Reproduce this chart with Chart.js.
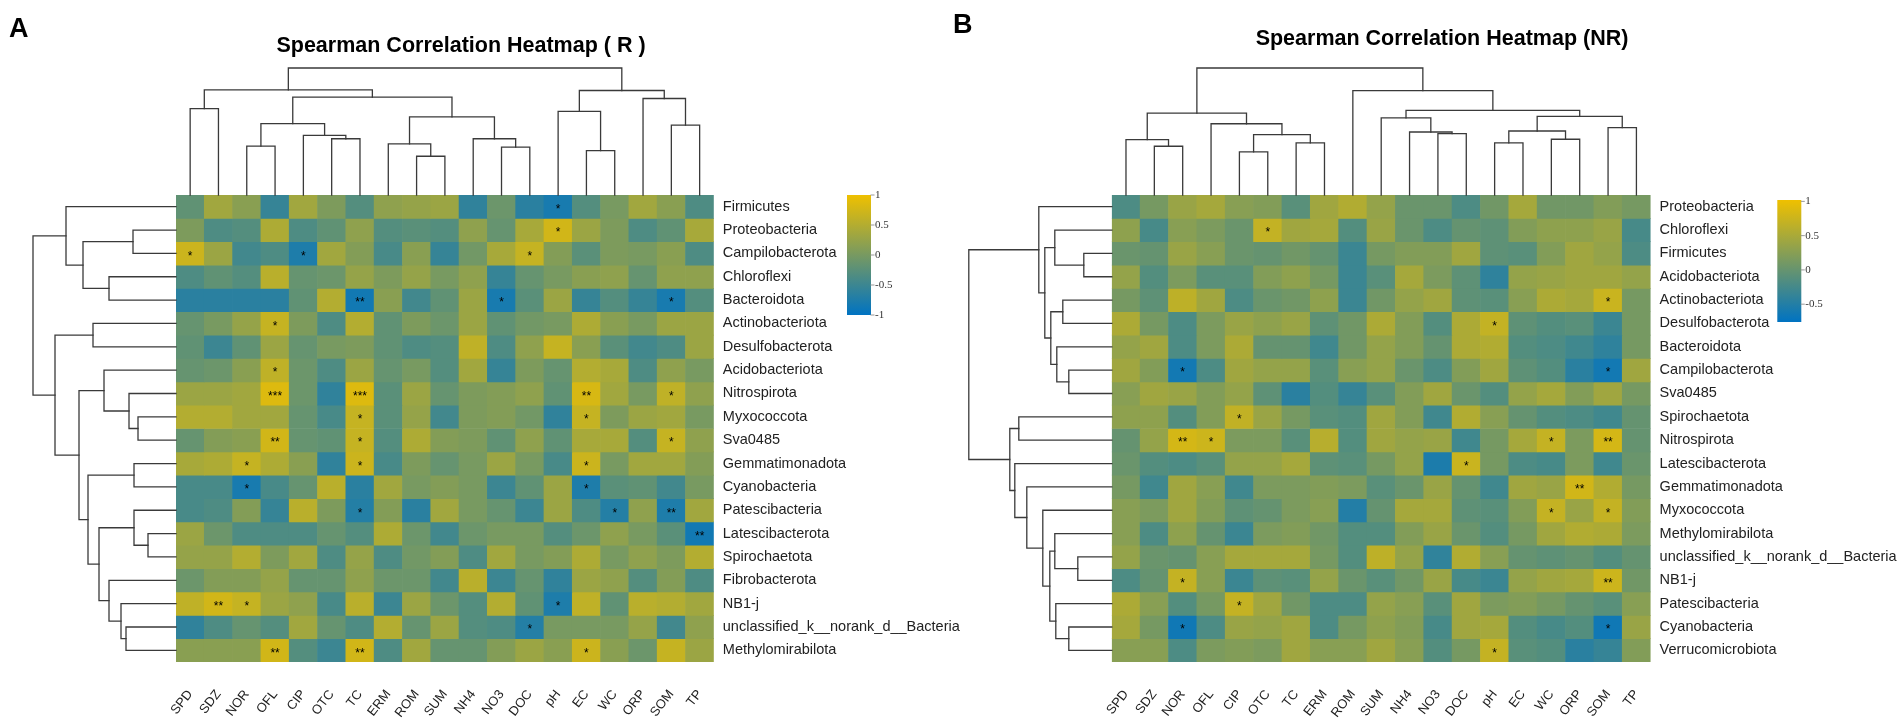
<!DOCTYPE html>
<html><head><meta charset="utf-8">
<script src="https://cdn.jsdelivr.net/npm/chart.js@4.4.1/dist/chart.umd.min.js"></script>
<style>
html,body{margin:0;padding:0;background:#fff;}
#wrap{position:relative;width:1904px;height:721px;overflow:hidden;background:#fff;}
.panel{position:absolute;top:0;height:721px;}
.letter{position:absolute;font:bold 27px "Liberation Sans",Arial,sans-serif;color:#000;line-height:1;}
</style></head><body>
<div id="wrap">
  <div class="panel" style="left:-40px;width:1002px"><canvas id="cA"></canvas></div>
  <div class="panel" style="left:965px;width:954px"><canvas id="cB"></canvas></div>
  <div class="letter" style="left:9px;top:15px">A</div>
  <div class="letter" style="left:953px;top:11px">B</div>
</div>
<script>
const columns = ["SPD","SDZ","NOR","OFL","CIP","OTC","TC","ERM","ROM","SUM","NH4","NO3","DOC","pH","EC","WC","ORP","SOM","TP"];

const rowsA = ["Firmicutes","Proteobacteria","Campilobacterota","Chloroflexi","Bacteroidota","Actinobacteriota","Desulfobacterota","Acidobacteriota","Nitrospirota","Myxococcota","Sva0485","Gemmatimonadota","Cyanobacteria","Patescibacteria","Latescibacterota","Spirochaetota","Fibrobacterota","NB1-j","unclassified_k__norank_d__Bacteria","Methylomirabilota"];

const rowsB = ["Proteobacteria","Chloroflexi","Firmicutes","Acidobacteriota","Actinobacteriota","Desulfobacterota","Bacteroidota","Campilobacterota","Sva0485","Spirochaetota","Nitrospirota","Latescibacterota","Gemmatimonadota","Myxococcota","Methylomirabilota","unclassified_k__norank_d__Bacteria","NB1-j","Patescibacteria","Cyanobacteria","Verrucomicrobiota"];

const valuesA = [
  [-0.2,0.35,0.15,-0.55,0.35,0.05,-0.3,0.2,0.25,0.3,-0.6,-0.1,-0.65,-0.8,-0.3,0.0,0.35,0.15,-0.35],
  [0.05,-0.35,-0.3,0.45,-0.35,-0.2,0.2,-0.3,-0.25,-0.3,0.2,-0.15,0.4,0.75,0.3,0.05,-0.35,-0.2,0.4],
  [0.7,0.3,-0.45,-0.35,-0.75,0.35,0.1,-0.4,0.15,-0.55,-0.05,0.4,0.65,0.1,-0.25,0.05,0.0,0.15,-0.35],
  [-0.35,-0.2,-0.3,0.55,-0.15,-0.1,0.25,0.05,0.25,0.0,0.2,-0.55,-0.15,0.0,0.15,0.2,-0.15,0.2,0.2],
  [-0.65,-0.65,-0.65,-0.65,-0.2,0.5,-0.85,0.15,-0.45,-0.2,0.3,-0.8,-0.25,0.3,-0.55,-0.3,-0.55,-0.8,-0.3],
  [-0.15,0.0,0.25,0.65,0.05,-0.35,0.5,-0.2,0.05,-0.1,0.3,-0.2,-0.05,0.0,0.45,0.15,0.0,0.3,0.3],
  [-0.2,-0.5,-0.2,0.3,-0.15,0.0,0.05,-0.2,-0.35,-0.3,0.6,-0.35,0.2,0.65,0.15,-0.25,-0.45,-0.35,0.3],
  [-0.15,-0.1,0.15,0.6,-0.1,-0.35,0.3,-0.15,0.0,-0.3,0.35,-0.55,0.05,-0.15,0.5,0.4,-0.35,0.2,0.0],
  [0.3,0.3,0.35,0.85,-0.1,-0.6,0.85,-0.25,0.3,-0.15,0.05,0.1,0.2,-0.2,0.8,0.35,0.0,0.6,0.2],
  [0.5,0.5,0.35,0.35,-0.15,-0.4,0.65,-0.25,0.25,-0.45,0.05,0.1,-0.05,-0.6,0.65,0.05,0.3,0.35,0.0],
  [-0.15,0.1,0.15,0.75,-0.15,-0.2,0.65,-0.3,0.45,0.1,0.05,-0.2,0.2,-0.2,0.4,0.4,-0.3,0.65,0.2],
  [0.4,0.45,0.65,0.45,0.15,-0.6,0.7,-0.4,0.05,-0.15,0.0,0.3,0.0,-0.4,0.7,0.0,0.35,0.35,0.1],
  [-0.4,-0.4,-0.8,-0.4,-0.15,0.55,-0.65,0.35,0.0,0.1,0.0,-0.5,-0.2,0.3,-0.75,-0.25,-0.2,-0.45,0.0],
  [-0.4,-0.35,0.1,-0.55,0.55,0.05,-0.7,0.1,-0.65,0.35,0.0,-0.15,-0.5,0.3,-0.35,-0.7,0.2,-0.75,0.35],
  [0.3,-0.1,-0.35,-0.35,-0.35,-0.15,-0.3,0.45,-0.1,-0.45,-0.1,0.0,0.0,-0.3,-0.1,0.2,0.0,-0.25,-0.85],
  [0.25,0.25,0.5,0.05,0.35,-0.35,0.25,-0.35,-0.05,0.1,-0.35,0.35,0.0,0.1,0.45,0.0,0.2,0.05,0.5],
  [-0.1,0.1,0.1,0.25,-0.15,-0.15,0.2,-0.1,-0.1,-0.45,0.55,-0.5,-0.15,-0.6,0.3,0.2,-0.3,0.1,-0.35],
  [0.6,0.75,0.65,0.3,0.2,-0.4,0.55,-0.5,0.3,-0.1,-0.3,0.5,-0.2,-0.75,0.6,-0.2,0.55,0.5,0.35],
  [-0.6,-0.35,-0.15,-0.3,0.35,-0.15,-0.35,0.5,-0.15,0.3,-0.3,-0.35,-0.7,0.0,0.0,0.0,0.25,-0.45,0.2],
  [0.15,0.15,0.15,0.75,-0.3,-0.5,0.75,-0.35,0.35,-0.15,-0.15,0.1,0.3,0.15,0.7,0.15,-0.1,0.65,0.3]
];

const valuesB = [
  [-0.19,0.12,0.38,0.47,0.25,0.21,-0.10,0.43,0.56,0.34,0.03,0.03,-0.19,0.08,0.47,0.08,0.08,0.21,0.12],
  [0.30,-0.23,0.25,0.16,0.03,0.69,0.43,0.47,-0.14,0.38,0.03,-0.19,-0.01,-0.06,0.21,0.30,0.30,0.38,-0.23],
  [0.03,-0.01,0.38,0.25,0.03,-0.01,0.08,-0.01,-0.32,0.12,0.21,0.21,0.43,-0.06,-0.10,0.21,0.43,0.34,-0.19],
  [0.34,-0.14,0.16,-0.10,-0.10,0.21,0.30,0.12,-0.32,-0.10,0.47,0.16,-0.06,-0.41,0.34,0.38,0.43,0.43,0.34],
  [0.12,-0.06,0.65,0.43,-0.19,0.03,0.08,0.30,-0.32,0.08,0.34,0.43,-0.06,-0.10,0.25,0.52,0.47,0.74,0.12],
  [0.52,0.12,-0.19,0.16,0.38,0.30,0.38,-0.06,0.08,0.52,0.21,-0.14,0.52,0.69,-0.06,-0.14,-0.10,-0.32,0.12],
  [0.34,0.43,-0.19,0.16,0.52,-0.01,-0.01,-0.28,0.08,0.34,0.21,-0.01,0.52,0.56,-0.14,-0.19,-0.28,-0.41,0.12],
  [0.43,0.21,-0.62,-0.19,0.43,0.34,0.34,-0.10,0.25,0.34,0.03,-0.19,0.21,0.43,-0.06,-0.14,-0.45,-0.62,0.43],
  [0.25,0.43,0.38,0.21,0.34,-0.06,-0.45,-0.14,-0.36,-0.10,0.21,0.43,0.03,-0.14,0.34,0.47,0.21,0.43,0.12],
  [0.30,0.30,-0.14,0.21,0.68,0.38,0.12,-0.10,-0.14,0.43,0.21,-0.28,0.56,0.25,-0.01,-0.14,-0.19,-0.28,-0.01],
  [-0.01,0.34,0.82,0.76,0.16,0.16,-0.10,0.60,-0.14,0.43,0.34,0.38,-0.28,0.12,0.47,0.70,0.16,0.82,-0.01],
  [0.03,-0.14,-0.19,-0.10,0.34,0.34,0.47,-0.06,-0.10,0.12,0.34,-0.55,0.74,0.12,-0.19,-0.23,0.16,-0.28,0.03],
  [0.12,-0.28,0.43,0.25,-0.28,0.16,0.16,0.21,0.16,-0.10,0.03,0.38,-0.01,-0.28,0.43,0.38,0.80,0.56,0.12],
  [0.25,0.16,0.43,0.21,-0.06,-0.01,0.16,0.25,-0.50,-0.01,0.47,0.47,-0.06,-0.10,0.21,0.70,0.38,0.70,0.21],
  [0.25,-0.19,0.30,-0.01,-0.32,0.16,0.21,0.08,-0.14,-0.14,0.21,0.38,0.03,-0.14,0.12,0.43,0.56,0.52,0.16],
  [0.34,0.03,-0.01,0.25,0.47,0.47,0.47,0.12,-0.14,0.65,0.34,-0.40,0.56,0.25,-0.01,-0.06,-0.01,-0.14,-0.01],
  [-0.19,-0.01,0.70,0.25,-0.32,-0.06,-0.10,0.34,0.03,-0.10,0.08,0.38,-0.23,-0.32,0.34,0.43,0.47,0.76,0.08],
  [0.52,0.25,-0.14,0.12,0.70,0.43,0.08,-0.19,-0.19,0.34,0.25,-0.10,0.43,0.16,0.21,0.12,-0.01,-0.10,0.25],
  [0.47,0.12,-0.64,-0.19,0.38,0.34,0.43,-0.19,0.12,0.30,0.21,-0.23,0.43,0.47,-0.14,-0.23,-0.14,-0.64,0.38],
  [0.25,0.25,-0.19,0.16,0.21,0.16,0.43,0.25,0.25,0.43,0.25,-0.14,0.12,0.70,-0.10,-0.14,-0.45,-0.36,0.21]
];

// significance marks: [row, column, mark]
const starsA = [[0,13,'*'],[1,13,'*'],[2,0,'*'],[2,4,'*'],[2,12,'*'],[4,6,'**'],[4,11,'*'],[4,17,'*'],[5,3,'*'],[7,3,'*'],[8,3,'***'],[8,6,'***'],[8,14,'**'],[8,17,'*'],[9,6,'*'],[9,14,'*'],[10,3,'**'],[10,6,'*'],[10,17,'*'],[11,2,'*'],[11,6,'*'],[11,14,'*'],[12,2,'*'],[12,14,'*'],[13,6,'*'],[13,15,'*'],[13,17,'**'],[14,18,'**'],[17,1,'**'],[17,2,'*'],[17,13,'*'],[18,12,'*'],[19,3,'**'],[19,6,'**'],[19,14,'*']];
const starsB = [[1,5,'*'],[4,17,'*'],[5,13,'*'],[7,2,'*'],[7,17,'*'],[9,4,'*'],[10,2,'**'],[10,3,'*'],[10,15,'*'],[10,17,'**'],[11,12,'*'],[12,16,'**'],[13,15,'*'],[13,17,'*'],[16,2,'*'],[16,17,'**'],[17,4,'*'],[18,2,'*'],[18,17,'*'],[19,13,'*']];

// dendrogram merges (hclust style): negative = leaf -(index+1), positive = earlier merge number; third = height
const rowTreeA = [[-2,-3,43],[-4,-5,67],[1,2,93],[-1,3,110],[-6,-7,83],[-10,-11,38],[-9,6,47],[-8,7,72],[-12,-13,42],[-15,-16,28],[-14,10,42],[-19,-20,50],[-18,12,55],[-17,13,67],[11,14,77],[9,15,88],[8,16,97],[5,17,121],[4,18,143]];
const colTreeA = [[-1,-2,68],[-3,-4,38.5],[-6,-7,44.3],[-5,3,47],[2,4,56.2],[-9,-10,30.5],[-8,6,40.3],[-12,-13,37.7],[-11,8,44.3],[7,9,61.5],[5,10,77],[1,11,82.8],[-15,-16,35],[-14,13,65.8],[-18,-19,55],[-17,15,76],[14,16,82.3],[12,17,100]];
const rowTreeB = [[-3,-4,28],[-2,1,57],[-5,-6,49],[-8,-9,43],[-7,4,55],[3,5,61],[2,6,67],[-1,7,73],[-10,-11,93],[-16,-17,34],[-15,10,57],[-19,-20,43],[-18,12,56],[11,13,62],[-14,14,69],[-13,15,85],[-12,16,97],[9,17,102],[8,18,143]];
const colTreeB = [[-2,-3,38.4],[-1,1,43.6],[-5,-6,34],[-7,-8,41],[3,4,47.5],[-4,5,56.1],[2,6,64.5],[-12,-13,48.3],[-11,8,49.6],[-10,9,60.8],[-14,-15,41],[-16,-17,43.9],[11,12,50.4],[-18,-19,53],[13,14,61.9],[10,15,66.6],[-9,16,82.2],[7,17,100]];

const colorbarTicksA = [1, 0.5, 0, -0.5, -1];
const colorbarTicksB = [1, 0.5, 0, -0.5];

const FONT = '"Liberation Sans", Arial, Helvetica, sans-serif';
const LOW = [0, 115, 194], HIGH = [239, 192, 0];

function heatColor(v, vmin, vmax) {
  const t = Math.max(0, Math.min(1, (v - vmin) / (vmax - vmin)));
  const c = LOW.map((l, i) => Math.round(l + (HIGH[i] - l) * t));
  return 'rgb(' + c.join(',') + ')';
}

function layoutTree(merges, leafPos) {
  const pos = [], hgt = [];
  const P = id => id < 0 ? leafPos(-id - 1) : pos[id - 1];
  const H = id => id < 0 ? 0 : hgt[id - 1];
  const segs = [];
  merges.forEach((m, k) => {
    const [a, b, h] = m;
    const pa = P(a), pb = P(b);
    segs.push({pa, pb, ha: H(a), hb: H(b), h});
    pos[k] = (pa + pb) / 2; hgt[k] = h;
  });
  return segs;
}

const extrasPlugin = {
  id: 'extras',
  afterDatasetsDraw(chart, args, opts) {
    const ctx = chart.ctx, xs = chart.scales.x, ys = chart.scales.y;
    ctx.save();
    ctx.fillStyle = '#000';
    ctx.font = '12px ' + FONT;
    ctx.textAlign = 'center';
    ctx.textBaseline = 'middle';
    opts.stars.forEach(([r, c, s]) => {
      ctx.fillText(s, xs.getPixelForValue(c), ys.getPixelForValue(r + 0.5) + 3);
    });
    ctx.restore();
  },
  afterDraw(chart, args, opts) {
    const ctx = chart.ctx, xs = chart.scales.x, ys = chart.scales.y, area = chart.chartArea;
    ctx.save();
    ctx.strokeStyle = '#3a3a3a';
    ctx.lineWidth = 1.3;
    ctx.lineCap = 'square';
    const cMax = Math.max(...opts.colTree.map(m => m[2]));
    const cy = h => area.top - h / cMax * opts.colDendroH;
    layoutTree(opts.colTree, i => xs.getPixelForValue(i)).forEach(s => {
      ctx.beginPath();
      ctx.moveTo(s.pa, cy(s.ha)); ctx.lineTo(s.pa, cy(s.h));
      ctx.lineTo(s.pb, cy(s.h)); ctx.lineTo(s.pb, cy(s.hb));
      ctx.stroke();
    });
    const rMax = Math.max(...opts.rowTree.map(m => m[2]));
    const rx = h => area.left - h / rMax * opts.rowDendroW;
    layoutTree(opts.rowTree, i => ys.getPixelForValue(i + 0.5)).forEach(s => {
      ctx.beginPath();
      ctx.moveTo(rx(s.ha), s.pa); ctx.lineTo(rx(s.h), s.pa);
      ctx.lineTo(rx(s.h), s.pb); ctx.lineTo(rx(s.hb), s.pb);
      ctx.stroke();
    });
    const cb = opts.colorbar;
    const g = ctx.createLinearGradient(0, cb.top, 0, cb.bottom);
    g.addColorStop(0, heatColor(cb.max, cb.min, cb.max));
    g.addColorStop(1, heatColor(cb.min, cb.min, cb.max));
    ctx.fillStyle = g;
    ctx.fillRect(cb.x, cb.top, cb.w, cb.bottom - cb.top);
    const vy = v => cb.top + (cb.max - v) / (cb.max - cb.min) * (cb.bottom - cb.top);
    ctx.fillStyle = '#333';
    ctx.strokeStyle = '#999';
    ctx.lineWidth = 1;
    ctx.font = '11px "Liberation Serif", "DejaVu Serif", serif';
    ctx.textAlign = 'left';
    ctx.textBaseline = 'middle';
    cb.ticks.forEach(v => {
      const y = vy(v);
      ctx.beginPath(); ctx.moveTo(cb.x + cb.w, y); ctx.lineTo(cb.x + cb.w + 3, y); ctx.stroke();
      ctx.fillText(String(v), cb.x + cb.w + 4, y);
    });
    ctx.restore();
  }
};

function makeChart(id, rows, values, cfg) {
  const datasets = rows.map((r, ri) => ({
    label: r,
    data: columns.map(() => [ri, ri + 1]),
    backgroundColor: columns.map((c, ci) => heatColor(values[ri][ci], cfg.vmin, cfg.vmax)),
    borderWidth: 0,
    barPercentage: 1,
    categoryPercentage: 1,
    grouped: false,
    xAxisID: 'x',
    yAxisID: 'y'
  }));
  return new Chart(document.getElementById(id), {
    type: 'bar',
    data: { labels: columns, datasets },
    plugins: [extrasPlugin],
    options: {
      responsive: true,
      maintainAspectRatio: false,
      animation: false,
      events: [],
      layout: { padding: 0 },
      plugins: {
        legend: { display: false },
        tooltip: { enabled: false },
        title: {
          display: true, text: cfg.title, color: '#000',
          font: { family: FONT, size: 21.5, weight: 'bold' },
          padding: { top: cfg.titleTop, bottom: cfg.titleBottom }
        },
        extras: {
          stars: cfg.stars, rowTree: cfg.rowTree, colTree: cfg.colTree,
          colDendroH: 127, rowDendroW: 143, colorbar: cfg.colorbar
        }
      },
      scales: {
        x: {
          type: 'category', position: 'bottom',
          grid: { display: false, drawTicks: false }, border: { display: false },
          ticks: { autoSkip: false, maxRotation: 52, minRotation: 52, padding: 25, color: '#222', font: { family: FONT, size: 13 } },
          afterFit: s => { s.height = 59; }
        },
        y: {
          type: 'linear', position: 'right', reverse: true, min: 0, max: rows.length,
          grid: { display: false, drawTicks: false }, border: { display: false },
          afterBuildTicks: s => { s.ticks = rows.map((_, i) => ({ value: i + 0.5 })); },
          ticks: { autoSkip: false, padding: 9, color: '#222', font: { family: FONT, size: 14.5 }, callback: (v, i) => rows[i] },
          afterFit: s => { s.width = cfg.rightW; }
        },
        yl: {
          type: 'linear', position: 'left', display: true,
          grid: { display: false, drawTicks: false }, border: { display: false },
          ticks: { display: false },
          afterFit: s => { s.width = cfg.leftW; }
        }
      }
    }
  });
}

makeChart('cA', rowsA, valuesA, {
  title: 'Spearman Correlation Heatmap ( R )',
  vmin: -1, vmax: 1,
  leftW: 216, rightW: 248.2,
  titleTop: 33, titleBottom: 136.2,
  stars: starsA, rowTree: rowTreeA, colTree: colTreeA,
  colorbar: { x: 887, w: 24, top: 195, bottom: 315, min: -1, max: 1, ticks: colorbarTicksA }
});
makeChart('cB', rowsB, valuesB, {
  title: 'Spearman Correlation Heatmap (NR)',
  vmin: -0.76, vmax: 1.02,
  leftW: 146.8, rightW: 268.4,
  titleTop: 26, titleBottom: 143.2,
  stars: starsB, rowTree: rowTreeB, colTree: colTreeB,
  colorbar: { x: 812.3, w: 24, top: 200, bottom: 322, min: -0.76, max: 1.02, ticks: colorbarTicksB }
});
</script>
</body></html>
